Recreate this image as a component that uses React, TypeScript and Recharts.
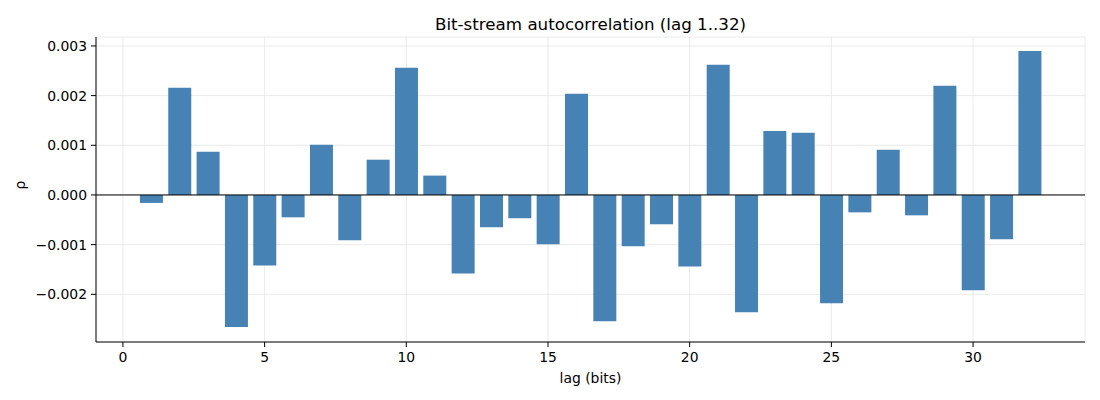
import {
  BarChart,
  Bar,
  XAxis,
  YAxis,
  CartesianGrid,
  ReferenceLine,
} from 'recharts';

const lags = [
  1, 2, 3, 4, 5, 6, 7, 8, 9, 10, 11, 12, 13, 14, 15, 16,
  17, 18, 19, 20, 21, 22, 23, 24, 25, 26, 27, 28, 29, 30, 31, 32,
];

// rho values in units of 1e-3
const rhoMilli = [
  -0.16, 2.16, 0.87, -2.66, -1.42, -0.45, 1.01, -0.91, 0.71, 2.56, 0.39,
  -1.58, -0.65, -0.47, -0.99, 2.04, -2.54, -1.03, -0.59, -1.44, 2.62,
  -2.36, 1.29, 1.25, -2.18, -0.35, 0.91, -0.41, 2.2, -1.92, -0.89, 2.9,
];

const xTicks = [0, 5, 10, 15, 20, 25, 30];
const yTicks = [-0.002, -0.001, 0, 0.001, 0.002, 0.003];

const data = lags.map((lag, i) => ({ lag, rho: rhoMilli[i] / 1000 }));

const font = 'DejaVu Sans, sans-serif';

const fmtY = (v: number) => {
  const s = Math.abs(v).toFixed(3);
  return v < 0 ? '\u2212' + s : s;
};

export default function App() {
  return (
    <div style={{ position: 'relative', width: 1092, height: 384, fontFamily: font }}>
      <div
        style={{
          position: 'absolute',
          top: 6,
          left: 88,
          width: 989,
          textAlign: 'center',
          fontSize: 16.7,
          color: '#000',
        }}
      >
        Bit-stream autocorrelation (lag 1..32)
      </div>
      <BarChart
        width={1092}
        height={384}
        data={data}
        margin={{ top: 29, right: 15, bottom: 0, left: 0 }}
        barCategoryGap="10%"
      >
        <CartesianGrid stroke="#e5e5e5" strokeWidth={0.8} />
        <XAxis
          dataKey="lag"
          type="number"
          domain={[-0.95, 33.95]}
          ticks={xTicks}
          allowDataOverflow
          height={50}
          tickSize={5}
          tickMargin={5}
          stroke="#000"
          tick={{ fill: '#000', fontSize: 13.9, fontFamily: font }}
          label={{
            value: 'lag (bits)',
            position: 'insideBottom',
            offset: 9,
            fill: '#000',
            fontSize: 13.9,
            fontFamily: font,
          }}
        />
        <YAxis
          type="number"
          domain={[-0.00296, 0.00318]}
          ticks={yTicks}
          allowDataOverflow
          width={88}
          tickSize={5}
          tickMargin={4}
          stroke="#000"
          tickFormatter={fmtY}
          tick={{ fill: '#000', fontSize: 13.9, fontFamily: font }}
          label={{
            value: 'ρ',
            angle: -90,
            position: 'insideLeft',
            offset: 12,
            fill: '#000',
            fontSize: 13.9,
            fontFamily: font,
          }}
        />
        <Bar dataKey="rho" fill="#4682b4" isAnimationActive={false} />
        <ReferenceLine y={0} stroke="#000" strokeWidth={1} />
      </BarChart>
    </div>
  );
}
